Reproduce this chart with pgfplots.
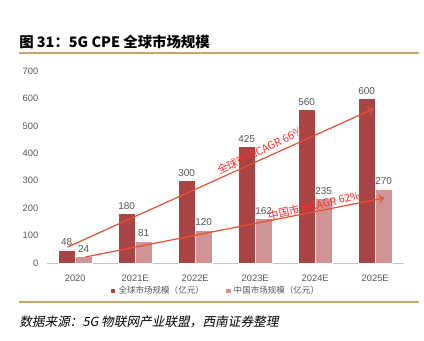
\documentclass[border=0pt]{standalone}
\usepackage{pgfplots}
\pgfplotsset{compat=1.18}
\usetikzlibrary{arrows.meta}
\usepackage{fontspec}
\setmainfont{Liberation Sans}
\newfontfamily\cjk{Noto Sans CJK SC}
\newfontfamily\cjkit[FakeSlant=0.2]{Noto Sans CJK SC}
\definecolor{darkbar}{HTML}{A84444}
\definecolor{lightbar}{HTML}{D19494}
\definecolor{tanline}{HTML}{C9A46A}
\definecolor{arrowc}{HTML}{E8502F}
\definecolor{labred}{HTML}{FF2A2A}
\definecolor{txtgray}{HTML}{555555}
\begin{document}
\begin{tikzpicture}[x=0.75pt,y=0.75pt]
\path[use as bounding box] (0,0) rectangle (424,340);
\draw[tanline, line width=1.1pt] (19,287) -- (419,287);
\node[anchor=west, inner sep=0pt] at (19,298) {\cjk\bfseries\fontsize{10.8}{12}\selectfont 图 31：5G CPE 全球市场规模};
\begin{axis}[
  at={(35.25pt,57.75pt)}, anchor=south west,
  scale only axis, width=267.75pt, height=144pt,
  xmin=-0.47, xmax=5.48, ymin=0, ymax=700,
  ybar=0pt, bar width=12.75pt,
  axis x line*=bottom, axis y line*=left,
  x axis line style={draw=gray!45, line width=0.6pt, -},
  y axis line style={draw=none},
  xtick={0,1,2,3,4,5},
  xticklabels={2020,2021E,2022E,2023E,2024E,2025E},
  ytick={0,100,200,300,400,500,600,700},
  tick style={draw=none},
  /pgf/number format/assume math mode=true,
  ticklabel style={font=\fontsize{7}{8}\selectfont, text=txtgray},
  yticklabel style={xshift=-3pt},
  xticklabel style={yshift=-1pt},
  nodes near coords,
  every node near coord/.append style={font=\fontsize{7.5}{8}\selectfont, text=txtgray, inner sep=1pt, yshift=2pt},
  legend style={at={(0.473,-0.146)}, anchor=center, draw=none, fill=none,
    legend columns=2, font=\cjk\fontsize{6.4}{7}\selectfont, text=txtgray,
    /tikz/every even column/.append style={column sep=14pt}},
  legend image code/.code={\fill[#1] (0pt,-2pt) rectangle (4pt,2pt);},
]
\addplot[fill=darkbar, draw=white, line width=0.4pt] coordinates {(0,48) (1,180) (2,300) (3,425) (4,560) (5,600)};
\addlegendentry{全球市场规模（亿元）}
\addplot[fill=lightbar, draw=white, line width=0.4pt] coordinates {(0,24) (1,81) (2,120) (3,162) (4,235) (5,270)};
\addlegendentry{中国市场规模（亿元）}
\draw[arrowc, line width=0.9pt, -{To[length=4pt,width=7pt]}] (axis cs:-0.13,58) -- (axis cs:4.97,562);
\draw[arrowc, line width=0.9pt, -{To[length=4pt,width=7pt]}] (axis cs:0.17,22) -- (axis cs:5.15,237);
\node[rotate=26, text=labred, font=\cjk\fontsize{8}{9}\selectfont, inner sep=0pt] at (axis cs:3.08,410) {全球市场CAGR 66\%};
\node[rotate=13, text=labred, font=\cjk\fontsize{8}{9}\selectfont, inner sep=0pt] at (axis cs:3.98,209) {中国市场CAGR 62\%};
\end{axis}
\draw[tanline, line width=1.1pt] (19,38) -- (419,38);
\node[anchor=west, inner sep=0pt] at (19,18) {\cjkit\fontsize{9.5}{11}\selectfont 数据来源：5G 物联网产业联盟，西南证券整理};
\end{tikzpicture}
\end{document}
